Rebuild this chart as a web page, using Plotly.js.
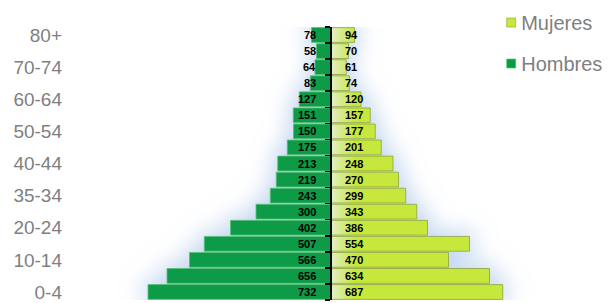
<!DOCTYPE html>
<html>
<head>
<meta charset="utf-8">
<script src="https://cdn.plot.ly/plotly-3.0.1.min.js"></script>
<style>
html,body{margin:0;padding:0;background:#fff;}
#chart{width:613px;height:303px;}
#chart .legend .legendpoints path{transform:translate(30px,0px) scale(0.75) !important;}
</style>
</head>
<body>
<div id="chart"></div>
<script>
const ageGroups = ["0-4","5-9","10-14","15-19","20-24","25-29","30-34","35-39","40-44","45-49","50-54","55-59","60-64","65-69","70-74","75-79","80+"];
const hombres = [732,656,566,507,402,300,243,219,213,175,150,151,127,83,64,58,78];
const mujeres = [687,634,470,554,386,343,299,270,248,201,177,157,120,74,61,70,94];
const tickIndex = [0,2,4,6,8,10,12,14,16];
const tickLabels = ["0-4","10-14","20-24","35-34","40-44","50-54","60-64","70-74","80+"];

const yIdx = ageGroups.map((_, i) => i);
const boundaries = [];
for (let i = 0; i <= ageGroups.length; i++) boundaries.push(i - 0.5);

const xLeft = -1052, xRight = 916;

const traces = [
  {
    type: 'bar', orientation: 'h', name: 'Mujeres', legendgroup: 'f',
    y: yIdx, x: mujeres,
    marker: {color: '#c6e83c', line: {color: 'rgba(150,170,60,0.9)', width: 1}},
    hoverinfo: 'none'
  },
  {
    type: 'bar', orientation: 'h', name: 'Hombres', legendgroup: 'm',
    y: yIdx, x: hombres.map(v => -v),
    marker: {color: '#089b46', line: {color: 'rgba(90,190,120,0.9)', width: 1}},
    hoverinfo: 'none'
  }
];

const annotations = [];
yIdx.forEach(i => {
  annotations.push({x: 0, y: i, xref: 'x', yref: 'y', text: String(hombres[i]), showarrow: false,
    xanchor: 'right', xshift: -13, font: {family: 'Liberation Sans, Arial', size: 11, color: '#000', weight: 'bold'}});
  annotations.push({x: 0, y: i, xref: 'x', yref: 'y', text: String(mujeres[i]), showarrow: false,
    xanchor: 'left', xshift: 12, font: {family: 'Liberation Sans, Arial', size: 11, color: '#000', weight: 'bold'}});
});

const layout = {
  width: 613, height: 303,
  margin: {l: 68, r: 53, t: 27, b: 3, autoexpand: false},
  paper_bgcolor: '#fff', plot_bgcolor: 'rgba(0,0,0,0)',
  barmode: 'relative', bargap: 0.08,
  font: {family: 'Liberation Sans, Arial', color: '#7f7f7f'},
  xaxis: {range: [xLeft, xRight], showgrid: false, zeroline: false, showticklabels: false, ticks: '', fixedrange: true},
  yaxis: {range: [-0.5, ageGroups.length - 0.5], tickmode: 'array', tickvals: tickIndex, ticktext: tickLabels,
    showgrid: false, zeroline: false, ticks: '', tickfont: {size: 19, color: '#7f7f7f'}, ticklabelstandoff: 5},
  yaxis2: {overlaying: 'y', anchor: 'free', position: (-xLeft) / (xRight - xLeft), side: 'left',
    range: [-0.5, ageGroups.length - 0.5], tickmode: 'array', tickvals: boundaries, showticklabels: false,
    ticks: 'outside', ticklen: 5, tickwidth: 1.5, tickcolor: '#000', showline: true, linecolor: '#000', linewidth: 2,
    layer: 'above traces', showgrid: false, zeroline: false},
  legend: {xref: 'container', yref: 'container', x: 0.785, y: 0.99, xanchor: 'left', yanchor: 'top',
    font: {size: 20, color: '#7f7f7f'}, traceorder: 'grouped', tracegroupgap: 12, bgcolor: 'rgba(0,0,0,0)'},
  showlegend: true,
  annotations: annotations
};

traces.push({type: 'scatter', x: [0], y: [0], yaxis: 'y2', mode: 'none', showlegend: false, hoverinfo: 'none'});

Plotly.newPlot('chart', traces, layout, {staticPlot: true}).then(gd => {
  const svg = gd.querySelector('svg.main-svg');
  let defs = svg.querySelector('defs');
  const x0 = gd._fullLayout.xaxis.l2p(0);
  defs.insertAdjacentHTML('beforeend',
    '<filter id="glowF" x="-30%" y="-30%" width="160%" height="160%">' +
    '<feMorphology in="SourceAlpha" operator="dilate" radius="4" result="d"/>' +
    '<feGaussianBlur in="d" stdDeviation="11" result="b"/>' +
    '<feFlood flood-color="#b4cdec" flood-opacity="0.8"/>' +
    '<feComposite in2="b" operator="in" result="g"/>' +
    '<feMerge><feMergeNode in="g"/><feMergeNode in="SourceGraphic"/></feMerge></filter>' +
    '<linearGradient id="fgrad" gradientUnits="userSpaceOnUse" x1="' + x0 + '" y1="0" x2="' + (x0 + 24) + '" y2="0">' +
    '<stop offset="0" stop-color="#e2eec6"/><stop offset="1" stop-color="#c6e83c"/></linearGradient>');
  const barlayer = svg.querySelector('.barlayer');
  if (barlayer) barlayer.setAttribute('filter', 'url(#glowF)');
  const barTraces = svg.querySelectorAll('.barlayer .trace');
  if (barTraces[0]) barTraces[0].querySelectorAll('path').forEach(p => { p.style.fill = 'url(#fgrad)'; });
});
</script>
</body>
</html>
